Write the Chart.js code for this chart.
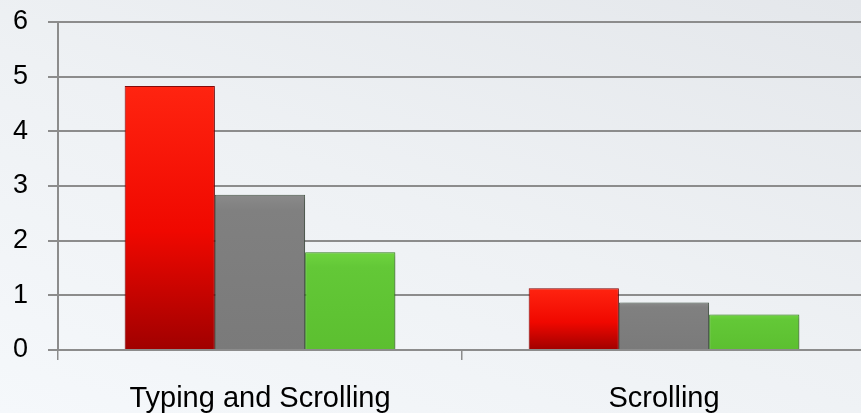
<!DOCTYPE html>
<html lang="en">
<head>
    <meta charset="UTF-8">
    <title>Typing and Scrolling</title>
    <script src="https://cdn.jsdelivr.net/npm/chart.js"></script>
    <style>
        html, body { margin: 0; padding: 0; overflow: hidden; }
        body { width: 861px; height: 413px; background: linear-gradient(200deg, #e4e7eb 0%, #eef1f4 50%, #f5f8fb 100%); }
        #wrap { width: 866px; height: 413px; position: relative; }
    </style>
</head>
<body>
    <div id="wrap"><canvas id="chart"></canvas></div>
    <script>
        // values
        const categories = ['Typing and Scrolling', 'Scrolling'];
        const redSeries = [4.83, 1.13];
        const graySeries = [2.84, 0.87];
        const greenSeries = [1.79, 0.65];
        const yTicks = [0, 1, 2, 3, 4, 5, 6];

        // gradient from the top of each bar down to the baseline
        function barGrad(stops) {
            return ctx => {
                const chart = ctx.chart;
                if (!chart.chartArea || ctx.parsed === undefined) return stops[0][1];
                const y = chart.scales.y;
                const top = y.getPixelForValue(ctx.parsed.y);
                const g = chart.ctx.createLinearGradient(0, top, 0, y.getPixelForValue(0));
                stops.forEach(s => g.addColorStop(s[0], s[1]));
                return g;
            };
        }

        const shadow = {
            id: 'shadow',
            beforeDatasetsDraw(chart) {
                const c = chart.ctx;
                c.save();
                c.shadowColor = 'rgba(0,0,0,0.3)';
                c.shadowBlur = 4;
                c.shadowOffsetX = 2;
                c.shadowOffsetY = 2;
            },
            afterDatasetsDraw(chart) { chart.ctx.restore(); }
        };

        new Chart(document.getElementById('chart'), {
            type: 'bar',
            data: {
                labels: categories,
                datasets: [
                    { data: redSeries, backgroundColor: barGrad([[0, '#ff2410'], [0.55, '#f00800'], [1, '#a00000']]), borderColor: '#8a0a0a', borderWidth: 1 },
                    { data: graySeries, backgroundColor: barGrad([[0, '#8a8a8a'], [0.1, '#808080'], [1, '#7a7a7a']]), borderColor: '#4f5f4f', borderWidth: 1 },
                    { data: greenSeries, backgroundColor: barGrad([[0, '#6fd43f'], [0.15, '#63c837'], [1, '#5cbf30']]), borderColor: '#3c8a22', borderWidth: 1 }
                ]
            },
            options: {
                responsive: true,
                maintainAspectRatio: false,
                animation: false,
                categoryPercentage: 0.67,
                barPercentage: 1,
                layout: { padding: { top: 22, left: 0, right: 0, bottom: 0 } },
                plugins: { legend: { display: false }, tooltip: { enabled: false } },
                scales: {
                    x: {
                        grid: { drawOnChartArea: false, drawTicks: true, tickLength: 10, color: '#8c8c8c', lineWidth: 1.5 },
                        border: { color: '#8c8c8c', width: 2 },
                        ticks: { color: '#000', font: { family: 'Liberation Sans', size: 29 }, padding: 22 },
                        afterFit: s => { s.height = 63; s.paddingLeft = 0; s.paddingRight = 0; }
                    },
                    y: {
                        min: 0,
                        max: 6,
                        afterBuildTicks: s => { s.ticks = yTicks.map(v => ({ value: v })); },
                        grid: { color: '#8c8c8c', lineWidth: 2, tickLength: 10 },
                        border: { color: '#8c8c8c', width: 2 },
                        ticks: { color: '#000', font: { family: 'Liberation Sans', size: 27 }, padding: 20 },
                        afterFit: s => { s.width = 58; s.paddingTop = 0; s.paddingBottom = 0; }
                    }
                }
            },
            plugins: [shadow]
        });
    </script>
</body>
</html>
